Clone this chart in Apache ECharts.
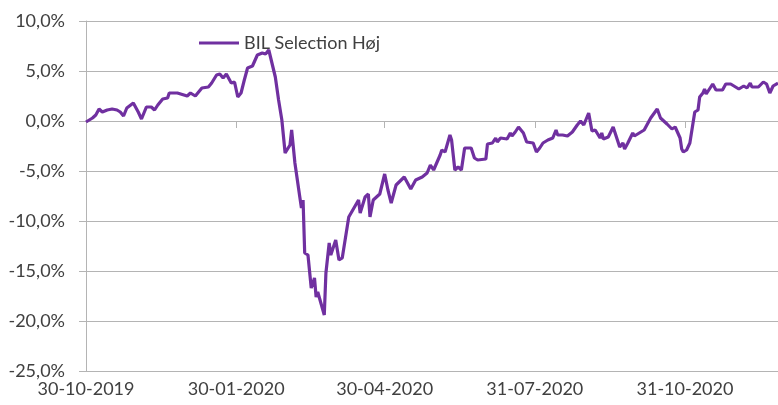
<!DOCTYPE html>
<html>
<head>
<meta charset="utf-8">
<script src="https://cdn.jsdelivr.net/npm/echarts@6/dist/echarts.min.js"></script>
<style>
  html, body { margin: 0; padding: 0; background: #fff; }
  #chart { width: 778px; height: 405px; }
</style>
</head>
<body>
<div id="chart"></div>
<script>
const seriesName = 'BIL Selection Høj'

// dates and return in percent
const dates = [
  '2019-10-30','2019-11-03','2019-11-05','2019-11-07','2019-11-09','2019-11-12','2019-11-13','2019-11-15','2019-11-18','2019-11-20',
  '2019-11-22','2019-11-24','2019-11-28','2019-11-29','2019-12-01','2019-12-03','2019-12-06','2019-12-09','2019-12-11','2019-12-13',
  '2019-12-16','2019-12-19','2019-12-20','2019-12-25','2019-12-31','2020-01-02','2020-01-05','2020-01-09','2020-01-13','2020-01-15',
  '2020-01-18','2020-01-20','2020-01-22','2020-01-24','2020-01-27','2020-01-29','2020-01-31','2020-02-02','2020-02-04','2020-02-06',
  '2020-02-09','2020-02-12','2020-02-15','2020-02-17','2020-02-19','2020-02-23','2020-02-25','2020-02-27','2020-02-29','2020-03-03',
  '2020-03-04','2020-03-06','2020-03-09','2020-03-10','2020-03-11','2020-03-12','2020-03-14','2020-03-16','2020-03-18','2020-03-19',
  '2020-03-20','2020-03-24','2020-03-25','2020-03-27','2020-03-28','2020-03-31','2020-04-02','2020-04-04','2020-04-08','2020-04-14',
  '2020-04-15','2020-04-18','2020-04-20','2020-04-21','2020-04-23','2020-04-27','2020-04-30','2020-05-02','2020-05-04','2020-05-07',
  '2020-05-12','2020-05-16','2020-05-19','2020-05-23','2020-05-26','2020-05-28','2020-05-30','2020-06-03','2020-06-04','2020-06-06',
  '2020-06-09','2020-06-10','2020-06-12','2020-06-14','2020-06-16','2020-06-18','2020-06-22','2020-06-24','2020-06-26','2020-07-01',
  '2020-07-02','2020-07-05','2020-07-07','2020-07-08','2020-07-10','2020-07-14','2020-07-16','2020-07-17','2020-07-19','2020-07-21',
  '2020-07-24','2020-07-26','2020-07-30','2020-08-01','2020-08-03','2020-08-05','2020-08-08','2020-08-11','2020-08-13','2020-08-14',
  '2020-08-17','2020-08-20','2020-08-23','2020-08-26','2020-08-28','2020-08-30','2020-09-02','2020-09-04','2020-09-06','2020-09-09',
  '2020-09-10','2020-09-11','2020-09-14','2020-09-17','2020-09-18','2020-09-21','2020-09-23','2020-09-24','2020-09-26','2020-09-29',
  '2020-09-30','2020-10-03','2020-10-06','2020-10-10','2020-10-14','2020-10-16','2020-10-17','2020-10-20','2020-10-23','2020-10-25',
  '2020-10-28','2020-10-29','2020-10-30','2020-11-01','2020-11-03','2020-11-06','2020-11-08','2020-11-09','2020-11-11','2020-11-12',
  '2020-11-13','2020-11-14','2020-11-17','2020-11-19','2020-11-23','2020-11-25','2020-11-28','2020-12-01','2020-12-03','2020-12-06',
  '2020-12-08','2020-12-10','2020-12-11','2020-12-15','2020-12-18','2020-12-20','2020-12-22','2020-12-24','2020-12-27'
]
const values = [
  -0.1, 0.3, 0.6, 1.2, 0.9, 1.1, 0.9, 1.2, 1.1, 0.9,
  0.5, 1.3, 1.8, 1.7, 0.9, 0.2, 1.4, 1.4, 1.1, 1.6,
  2.2, 2.3, 2.8, 2.8, 2.5, 2.8, 2.5, 3.3, 3.4, 3.8,
  4.6, 4.7, 4.3, 4.7, 3.8, 3.9, 2.4, 2.8, 4.1, 5.3,
  5.5, 6.6, 6.8, 6.7, 7.1, 4.4, 2.1, 0.1, -3.2, -2.4,
  -0.9, -4.2, -7.6, -8.7, -7.9, -13.2, -13.4, -16.7, -15.7, -17.6,
  -17.1, -19.4, -15.2, -12.2, -13.4, -11.9, -13.9, -13.7, -9.6, -7.9,
  -9.2, -7.6, -7.3, -9.6, -7.9, -7.3, -5.3, -6.9, -8.2, -6.4,
  -5.6, -6.8, -5.9, -5.6, -5.2, -4.4, -4.9, -3.4, -2.9, -3.1,
  -1.4, -1.9, -4.9, -4.6, -4.9, -2.7, -2.7, -3.7, -3.9, -3.8,
  -2.3, -2.2, -1.7, -2.1, -1.7, -1.8, -1.2, -1.5, -1.1, -0.6,
  -1.2, -2.1, -2.2, -3.1, -2.7, -2.2, -1.9, -1.7, -0.9, -1.4,
  -1.4, -1.5, -1.1, -0.4, 0.0, -0.4, 0.8, -1.0, -0.9, -1.7,
  -1.2, -1.8, -1.6, -0.6, -1.1, -2.6, -2.2, -2.8, -2.2, -1.2,
  -1.5, -1.2, -0.9, 0.3, 1.2, 0.3, 0.4, -0.3, -0.8, -0.6,
  -1.7, -2.8, -3.1, -2.9, -2.2, 0.9, 1.1, 2.4, 2.8, 3.2,
  2.7, 2.9, 3.7, 3.1, 3.1, 3.7, 3.7, 3.4, 3.2, 3.5,
  3.3, 3.8, 3.4, 3.4, 3.9, 3.7, 2.8, 3.5, 3.8
]

// x axis tick / label dates
const tickDates = ['2019-10-30', '2020-01-30', '2020-04-30', '2020-07-31', '2020-10-31']
const xMin = '2019-10-30'
const xMax = '2020-12-27'

const toTime = s => echarts.number.parseDate(s).getTime()
const tickTimes = tickDates.map(toTime)

const gridColor = '#b4b4b4'
const textColor = '#404040'
const font = 'Lato'

const chart = echarts.init(document.getElementById('chart'))
chart.setOption({
  animation: false,
  legend: {
    left: 194,
    top: 29,
    icon: 'rect',
    itemWidth: 40,
    itemHeight: 3,
    itemGap: 5,
    textStyle: { color: textColor, fontFamily: font, fontSize: 18 },
    data: [seriesName]
  },
  grid: {
    left: 86,
    right: 0,
    top: 21,
    bottom: 34
  },
  xAxis: [
    {
      // bottom axis carrying the labels (timestamps on a value axis)
      type: 'value',
      min: toTime(xMin),
      max: toTime(xMax),
      position: 'bottom',
      axisLine: { onZero: false, lineStyle: { color: gridColor } },
      axisTick: { show: false },
      splitLine: { show: false },
      axisLabel: {
        customValues: tickTimes,
        margin: 9,
        color: textColor,
        fontFamily: font,
        fontSize: 18,
        showMinLabel: true,
        showMaxLabel: true,
        hideOverlap: false,
        formatter: val => echarts.time.format(val, '{dd}-{MM}-{yyyy}', false)
      }
    },
    {
      // axis through zero, ticks only
      type: 'value',
      min: toTime(xMin),
      max: toTime(xMax),
      position: 'bottom',
      axisLine: { onZero: true, lineStyle: { color: gridColor } },
      axisTick: { show: true, customValues: tickTimes, length: 7, lineStyle: { color: gridColor } },
      axisLabel: { show: false },
      splitLine: { show: false }
    }
  ],
  yAxis: {
    type: 'value',
    min: -25,
    max: 10,
    interval: 5,
    axisLine: { show: true, lineStyle: { color: gridColor } },
    axisTick: { show: true, length: 7, lineStyle: { color: gridColor } },
    splitLine: { lineStyle: { color: gridColor, width: 1 } },
    axisLabel: {
      margin: 21,
      color: textColor,
      fontFamily: font,
      fontSize: 18,
      formatter: v => v.toFixed(1).replace('.', ',') + '%'
    }
  },
  series: [{
    name: seriesName,
    type: 'line',
    xAxisIndex: 0,
    symbol: 'none',
    color: '#7030a0',
    lineStyle: { width: 3.2, color: '#7030a0' },
    data: dates.map((d, i) => [toTime(d), values[i]])
  }]
})
</script>
</body>
</html>
